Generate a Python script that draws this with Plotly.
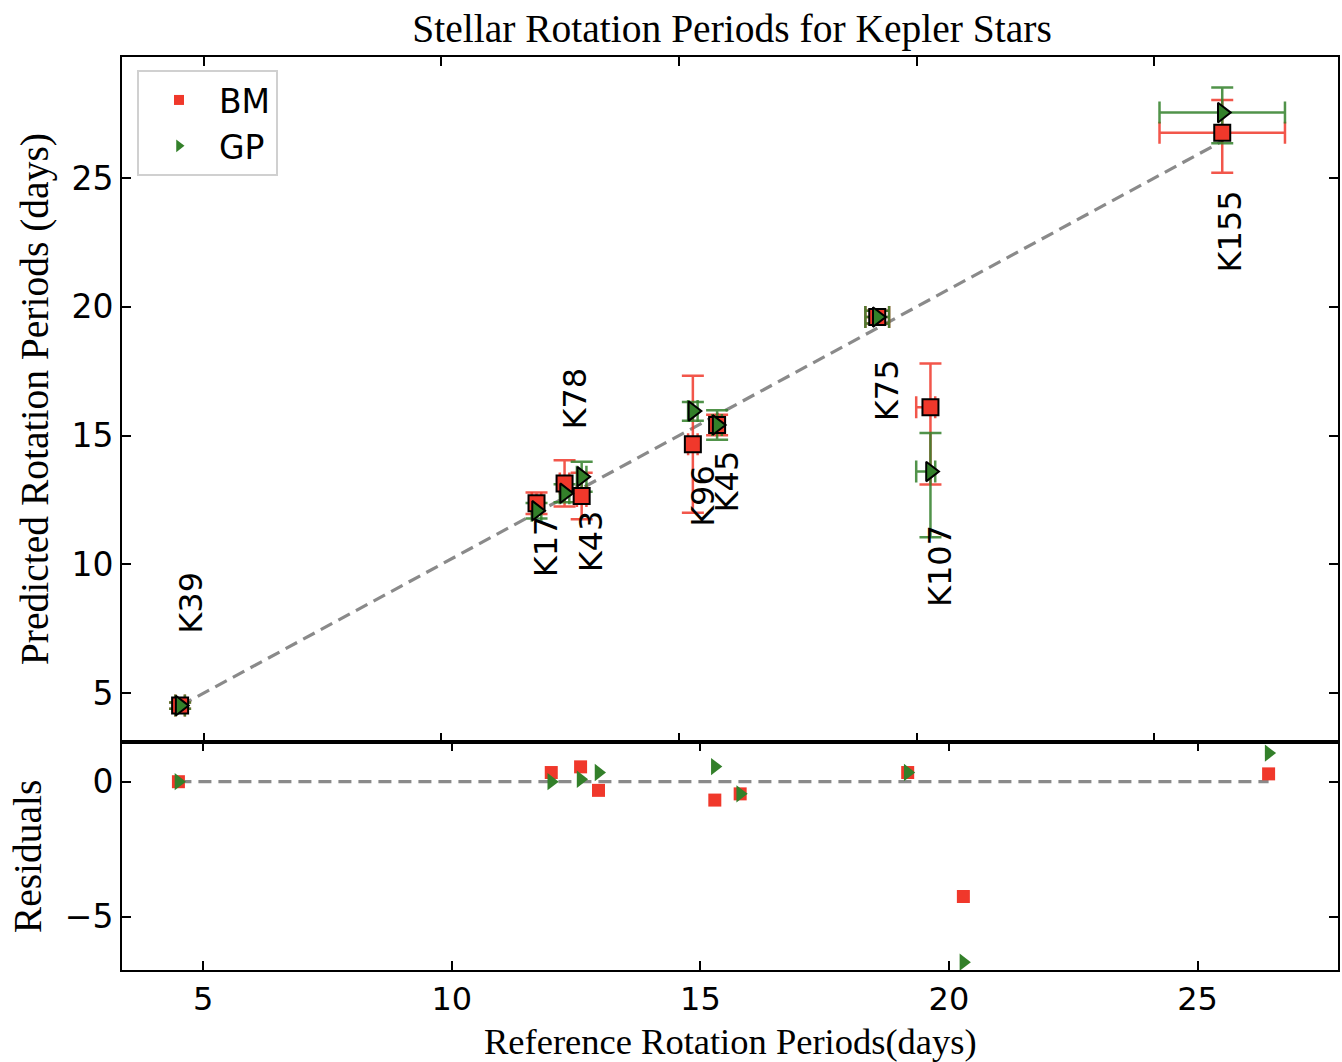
import plotly.graph_objects as go

# ---------------- data ----------------
stars = ["K39", "K17", "K78", "K43", "K96", "K45", "K75", "K107", "K155"]
ref_period = [4.5, 12.0, 12.59, 12.95, 15.29, 15.8, 19.17, 20.29, 26.43]
ref_err_plus = [0.1, 0.1, 0.1, 0.1, 0.1, 0.1, 0.25, 0.1, 1.32]
ref_err_minus = [0.1, 0.1, 0.1, 0.1, 0.1, 0.1, 0.25, 0.3, 1.32]

bm_pred = [4.51, 12.37, 13.14, 12.65, 14.66, 15.41, 19.6, 16.1, 26.76]
bm_err_plus = [0.12, 0.42, 0.9, 0.9, 2.66, 0.4, 0.25, 1.7, 1.27]
bm_err_minus = [0.12, 0.42, 0.9, 0.9, 2.66, 0.4, 0.25, 3.0, 1.56]

gp_pred = [4.51, 12.08, 12.76, 13.4, 15.95, 15.41, 19.6, 13.6, 27.54]
gp_err_plus = [0.12, 0.3, 0.35, 0.58, 0.35, 0.57, 0.25, 1.5, 0.98]
gp_err_minus = [0.12, 0.3, 0.35, 0.58, 0.38, 0.57, 0.25, 2.55, 1.19]

bm_resid = [0.0, 0.34, 0.55, -0.32, -0.68, -0.45, 0.34, -4.25, 0.29]
gp_resid = [0.0, 0.0, 0.09, 0.34, 0.56, -0.45, 0.34, -6.68, 1.06]

label_x = [4.73, 12.2, 12.8, 13.15, 15.5, 16.0, 19.38, 20.49, 26.6]
label_y = [8.51, 10.7, 16.42, 10.9, 12.65, 13.2, 16.77, 9.93, 22.94]

ticks_x = [5, 10, 15, 20, 25]
ticks_top_y = [5, 10, 15, 20, 25]
ticks_res_y = [-5, 0]

RED = "#f0382b"
GREEN = "#33802a"
RED_BAR = "rgba(240,56,43,0.85)"
GREEN_BAR = "rgba(51,128,42,0.85)"

fig = go.Figure()

# identity line (top)
line_x = [min(ref_period), max(ref_period)]
fig.add_trace(go.Scatter(x=line_x, y=line_x, mode="lines", xaxis="x", yaxis="y",
                         line=dict(color="#8a8a8a", width=3.2, dash="13px,7px"),
                         showlegend=False, hoverinfo="skip"))

# error bars (markers hidden)
def err_trace(y, ep, em, color):
    return go.Scatter(
        x=ref_period, y=y, mode="markers", xaxis="x", yaxis="y",
        marker=dict(size=12, opacity=0),
        error_y=dict(type="data", symmetric=False, array=ep, arrayminus=em,
                     color=color, thickness=2.5, width=11),
        error_x=dict(type="data", symmetric=False, array=ref_err_plus,
                     arrayminus=ref_err_minus, color=color, thickness=2.5, width=11),
        showlegend=False, hoverinfo="skip")

fig.add_trace(err_trace(bm_pred, bm_err_plus, bm_err_minus, RED_BAR))
fig.add_trace(err_trace(gp_pred, gp_err_plus, gp_err_minus, GREEN_BAR))

# markers top
fig.add_trace(go.Scatter(x=ref_period, y=bm_pred, mode="markers", xaxis="x", yaxis="y",
                         marker=dict(symbol="square", size=16, color=RED,
                                     line=dict(color="black", width=2)),
                         showlegend=False, name="BM"))
fig.add_trace(go.Scatter(x=ref_period, y=gp_pred, mode="markers", xaxis="x", yaxis="y",
                         marker=dict(symbol="triangle-right", size=17, color=GREEN,
                                     line=dict(color="black", width=2)),
                         showlegend=False, name="GP"))

# residual zero line
fig.add_trace(go.Scatter(x=line_x, y=[0, 0], mode="lines", xaxis="x2", yaxis="y2",
                         line=dict(color="#8a8a8a", width=3.2, dash="13px,7px"),
                         showlegend=False, hoverinfo="skip"))
fig.add_trace(go.Scatter(x=ref_period, y=bm_resid, mode="markers", xaxis="x2", yaxis="y2",
                         marker=dict(symbol="square", size=13, color=RED),
                         showlegend=False, name="BM"))
fig.add_trace(go.Scatter(x=ref_period, y=gp_resid, mode="markers", xaxis="x2", yaxis="y2",
                         marker=dict(symbol="triangle-right", size=15, color=GREEN),
                         showlegend=False, name="GP"))

# legend-only entries
fig.add_trace(go.Scatter(x=[None], y=[None], mode="markers", xaxis="x", yaxis="y",
                         marker=dict(symbol="square", size=10, color=RED), name="BM"))
fig.add_trace(go.Scatter(x=[None], y=[None], mode="markers", xaxis="x", yaxis="y",
                         marker=dict(symbol="triangle-right", size=11, color=GREEN), name="GP"))

annotations = []
for name, lx, ly in zip(stars, label_x, label_y):
    annotations.append(dict(x=lx, y=ly, xref="x", yref="y", text=name, showarrow=False,
                            textangle=-90, xanchor="center", yanchor="middle",
                            font=dict(family="DejaVu Sans", size=32, color="black")))

serif = "Liberation Serif"
annotations += [
    dict(x=(35 - 122) / 1218, y=(970 - 399) / 913, xref="paper", yref="paper",
         text="Predicted Rotation Periods (days)", showarrow=False, textangle=-90,
         xanchor="center", yanchor="middle", font=dict(family=serif, size=39.5, color="black")),
    dict(x=(28 - 122) / 1218, y=(970 - 856) / 913, xref="paper", yref="paper",
         text="Residuals", showarrow=False, textangle=-90,
         xanchor="center", yanchor="middle", font=dict(family=serif, size=39.5, color="black")),
    dict(x=(732 - 122) / 1218, y=(970 - 1041) / 913, xref="paper", yref="paper",
         text="Reference Rotation Periods(days)", showarrow=False,
         xanchor="center", yanchor="middle", font=dict(family=serif, size=36.5, color="black")),
]

axis_common = dict(showline=True, linecolor="black", linewidth=2, mirror="ticks",
                   ticks="inside", ticklen=9, tickwidth=2, tickcolor="black",
                   showgrid=False, zeroline=False)
tf_y = dict(family="DejaVu Sans", size=33, color="black")
tf_x = dict(family="DejaVu Sans", size=32, color="black")

split = 228 / 913
fig.update_layout(
    width=1342, height=1062,
    margin=dict(l=122, r=2, t=57, b=92),
    paper_bgcolor="white", plot_bgcolor="white",
    title=dict(text="Stellar Rotation Periods for Kepler Stars", x=(732) / 1342, xanchor="center",
               y=1 - 28 / 1062, yanchor="middle", yref="container",
               font=dict(family=serif, size=39.5, color="black")),
    xaxis=dict(domain=[0, 1], anchor="y", range=[3.277, 28.866], tickvals=ticks_x,
               showticklabels=False, tickfont=tf_x, **axis_common),
    yaxis=dict(domain=[split, 1], anchor="x", range=[3.097, 29.70], tickvals=ticks_top_y,
               ticklabelstandoff=0, tickfont=tf_y, **axis_common),
    xaxis2=dict(domain=[0, 1], anchor="y2", range=[3.365, 27.826], tickvals=ticks_x,
                ticklabelstandoff=0, tickfont=tf_x, **axis_common),
    yaxis2=dict(domain=[0, split], anchor="x2", range=[-6.97, 1.47], tickvals=ticks_res_y,
                ticklabelstandoff=0, tickfont=tf_y, **axis_common),
    legend=dict(x=(137 - 122) / 1218, y=(970 - 70) / 913, xanchor="left", yanchor="top",
                bgcolor="white", bordercolor="#d0d0d0", borderwidth=2,
                font=dict(family="DejaVu Sans", size=33, color="black"),
                itemwidth=70),
    annotations=annotations,
    showlegend=True,
)

fig.write_html("out.html")
